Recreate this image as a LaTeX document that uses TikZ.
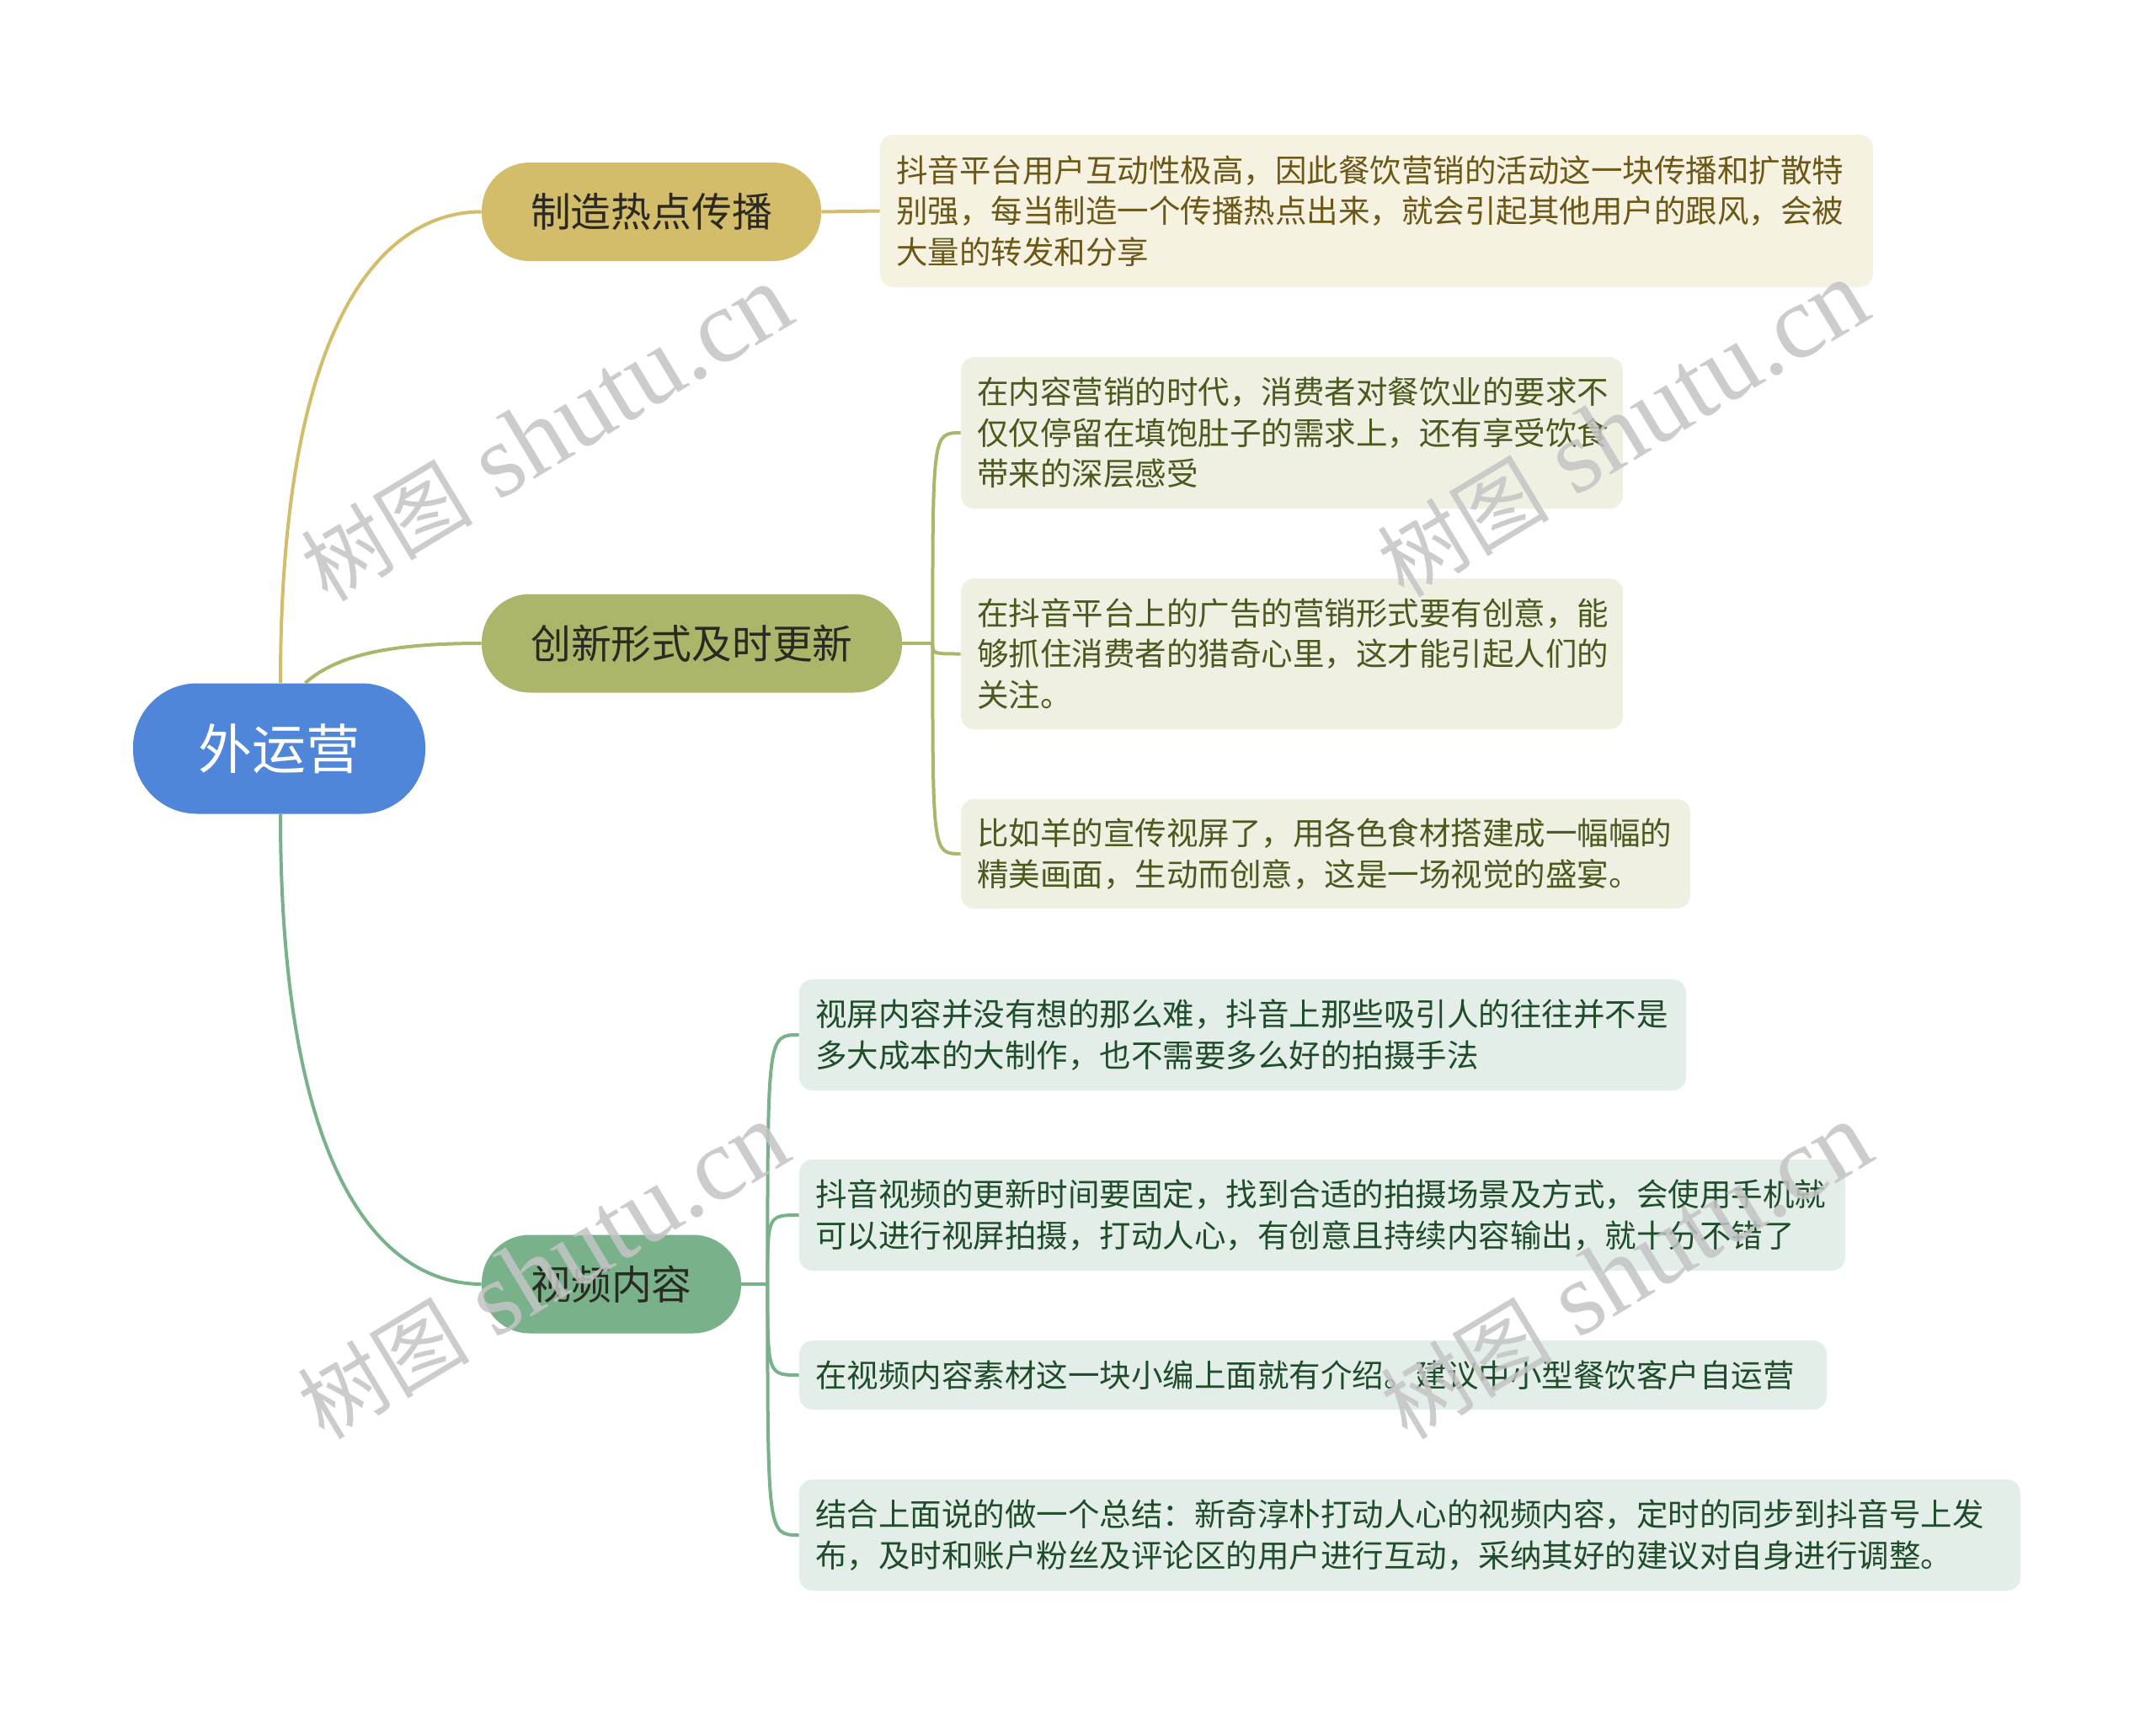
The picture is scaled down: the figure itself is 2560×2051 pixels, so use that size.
\documentclass[tikz,border=0pt]{standalone}
\usepackage{fontspec}
\newfontfamily\cjk{Noto Sans CJK SC}
\newfontfamily\wmserif{Liberation Serif}
\definecolor{rootc}{HTML}{4F86D9}
\definecolor{goldc}{HTML}{D3BC6A}
\definecolor{olivec}{HTML}{ADB56A}
\definecolor{greenc}{HTML}{79B28A}
\definecolor{goldbg}{HTML}{F6F2E1}
\definecolor{olivebg}{HTML}{EFEFE2}
\definecolor{greenbg}{HTML}{E4EEE8}
\definecolor{goldtx}{HTML}{6B5716}
\definecolor{olivetx}{HTML}{4A5A1E}
\definecolor{greentx}{HTML}{1F4D2B}
\definecolor{darktx}{HTML}{2B2A22}
\definecolor{wmc}{HTML}{C4C4C4}
\newcommand{\wmtext}{{\cjk\fontsize{51pt}{51pt}\selectfont 树图}{\wmserif\fontsize{62pt}{62pt}\selectfont\ shutu.cn}}
\tikzset{
  rootbox/.style={fill=rootc, text=white, rounded corners=38pt, inner sep=0pt,
    minimum width=173.5pt, minimum height=77.5pt, font=\cjk\fontsize{32pt}{32pt}\selectfont},
  branchbox/.style={rounded corners=28.5pt, inner sep=0pt, minimum height=58.5pt,
    text=darktx, font=\cjk\fontsize{23.9pt}{24pt}\selectfont},
  leafbox/.style={rounded corners=8pt, inner xsep=9.5pt, inner ysep=0pt, align=left,
    font=\cjk\fontsize{18.75pt}{24.25pt}\selectfont},
  goldleaf/.style={leafbox, fill=goldbg, text=goldtx},
  oliveleaf/.style={leafbox, fill=olivebg, text=olivetx},
  greenleaf/.style={leafbox, fill=greenbg, text=greentx},
  goldline/.style={draw=goldc, line width=2pt},
  oliveline/.style={draw=olivec, line width=2pt},
  greenline/.style={draw=greenc, line width=2pt},
  wmark/.style={text=wmc, text opacity=0.85, inner sep=0pt, rotate=31}
}
\begin{document}
\begin{tikzpicture}[x=0.5pt,y=-0.5pt]
\fill[white] (0,0) rectangle (2560,2051);
\useasboundingbox (0,0) rectangle (2560,2051);

% root and branches
\node[rootbox] (root) at (331.5,889) {外运营};
\node[branchbox, fill=goldc, minimum width=201.5pt] (b1) at (773.5,251.5) {制造热点传播};
\node[branchbox, fill=olivec, minimum width=249.5pt] (b2) at (821.5,764) {创新形式及时更新};
\node[branchbox, fill=greenc, minimum width=154pt] (b3) at (726,1525) {视频内容};

% leaves
\node[goldleaf, text width=570.5pt, minimum height=90.5pt] (l1) at (1634.5,250.5)
 {抖音平台用户互动性极高，因此餐饮营销的活动这一块传播和扩散特\\别强，每当制造一个传播热点出来，就会引起其他用户的跟风，会被\\大量的转发和分享};

\node[oliveleaf, text width=374pt, minimum height=90pt] (l2a) at (1534,514)
 {在内容营销的时代，消费者对餐饮业的要求不\\仅仅停留在填饱肚子的需求上，还有享受饮食\\带来的深层感受};
\node[oliveleaf, text width=374pt, minimum height=89.5pt] (l2b) at (1534,776.5)
 {在抖音平台上的广告的营销形式要有创意，能\\够抓住消费者的猎奇心里，这才能引起人们的\\关注。};
\node[oliveleaf, text width=414pt, minimum height=65pt] (l2c) at (1574,1014)
 {比如羊的宣传视屏了，用各色食材搭建成一幅幅的\\精美画面，生动而创意，这是一场视觉的盛宴。};

\node[greenleaf, text width=507.5pt, minimum height=66pt] (l3a) at (1475.5,1229)
 {视屏内容并没有想的那么难，抖音上那些吸引人的往往并不是\\多大成本的大制作，也不需要多么好的拍摄手法};
\node[greenleaf, text width=602pt, minimum height=66pt] (l3b) at (1570,1443)
 {抖音视频的更新时间要固定，找到合适的拍摄场景及方式，会使用手机就\\可以进行视屏拍摄，打动人心，有创意且持续内容输出，就十分不错了};
\node[greenleaf, text width=591pt, minimum height=41pt] (l3c) at (1559,1633)
 {在视频内容素材这一块小编上面就有介绍。建议中小型餐饮客户自运营};
\node[greenleaf, text width=706pt, minimum height=66pt] (l3d) at (1674,1823)
 {结合上面说的做一个总结：新奇淳朴打动人心的视频内容，定时的同步到抖音号上发\\布，及时和账户粉丝及评论区的用户进行互动，采纳其好的建议对自身进行调整。};

% root to branches
\draw[goldline] ([xshift=0.75pt]root.north) .. controls +(0,-439) and +(-113,0) .. (b1.west);
\draw[oliveline] ([xshift=15.5pt]root.north) .. controls +(36,-32) and +(-112,0) .. (b2.west);
\draw[greenline] ([xshift=0.75pt]root.south) .. controls +(0,439) and +(-113,0) .. (b3.west);

% branch 1
\draw[goldline] (b1.east) -- (l1.west);

% branch 2
\coordinate (sp2) at ([xshift=18pt]b2.east);
\draw[oliveline] (b2.east) -- (sp2);
\foreach \l in {l2a,l2b,l2c}
  \draw[oliveline] (sp2) .. controls (sp2 |- \l.west) and (sp2 |- \l.west) .. (\l.west);

% branch 3
\coordinate (sp3) at ([xshift=15.5pt]b3.east);
\draw[greenline] (b3.east) -- (sp3);
\foreach \l in {l3a,l3b,l3c,l3d}
  \draw[greenline] (sp3) .. controls (sp3 |- \l.west) and (sp3 |- \l.west) .. (\l.west);

% watermarks
\node[wmark] (wm1) at (649,515) {\wmtext};
\node[wmark] (wm2) at (1927,510) {\wmtext};
\node[wmark] (wm3) at (645,1510) {\wmtext};
\node[wmark] (wm4) at (1931,1510) {\wmtext};
\end{tikzpicture}
\end{document}
